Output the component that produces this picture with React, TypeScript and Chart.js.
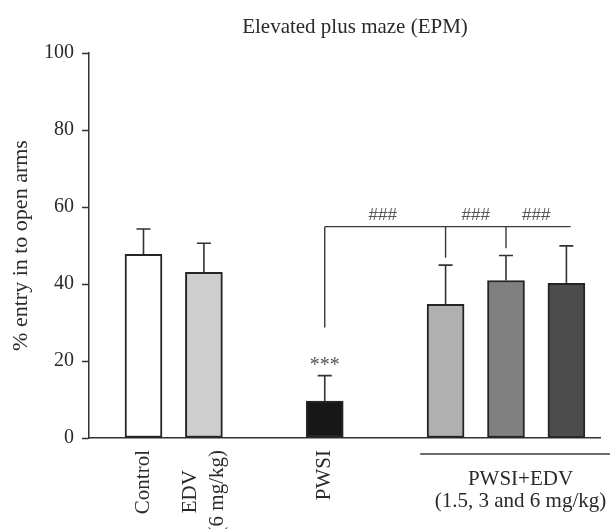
import { useEffect, useRef } from "react";
import { Chart, registerables } from "chart.js";

Chart.register(...registerables);

// ---- data ----
const groupNames = ["Control", "EDV 6 mg/kg", "PWSI", "PWSI+EDV 1.5 mg/kg", "PWSI+EDV 3 mg/kg", "PWSI+EDV 6 mg/kg"];
const groupSlots = [0, 1, 3, 5, 6, 7];
const meanEntry = [47.7, 43.0, 9.6, 34.7, 40.9, 40.2];
const errorEntry = [6.6, 7.6, 6.6, 10.2, 6.5, 9.7];
const barFills = ["#ffffff", "#cdcecd", "#171717", "#b0b0b0", "#808080", "#4c4c4c"];
const yTickValues = [0, 20, 40, 60, 80, 100];

const chartTitle = "Elevated plus maze (EPM)";
const yAxisTitle = "% entry in to open arms";
const axisLabelLines = [["Control"], ["EDV", "(6 mg/kg)"], ["PWSI"]];
const axisLabelSlots = [0, 1, 3];
const groupLabelLines = ["PWSI+EDV", "(1.5, 3 and 6 mg/kg)"];
const groupLineRange = [4.58, 7.72];
const groupLabelSlot = 6.24;

const bracketLevel = 54.9;
const bracketRange = [3, 7.07];
const bracketDropSlots = [3, 5, 6];
const bracketDropEnds = [28.7, 46.8, 49.3];
const hashLabel = "###";
const hashSlots = [3.96, 5.5, 6.5];
const hashLevel = 56.6;
const starLabel = "***";
const starSlot = 3;
const starLevel = 17.3;

const TEXT = "#2a2a2a";
const LINE = "#333333";
const SERIF = '"Liberation Serif", "Times New Roman", serif';

const annotationPlugin = {
  id: "annotations",
  afterDatasetsDraw(chart: any) {
    const ctx = chart.ctx;
    const xs = chart.scales.x;
    const ys = chart.scales.y;
    const meta = chart.getDatasetMeta(0);
    ctx.save();
    // error bars
    ctx.strokeStyle = LINE;
    ctx.lineWidth = 1.6;
    meta.data.forEach((bar: any, i: number) => {
      const x = bar.x;
      const yTop = ys.getPixelForValue(meanEntry[i]);
      const yErr = ys.getPixelForValue(meanEntry[i] + errorEntry[i]);
      ctx.beginPath();
      ctx.moveTo(x, yTop);
      ctx.lineTo(x, yErr);
      ctx.moveTo(x - 7, yErr);
      ctx.lineTo(x + 7, yErr);
      ctx.stroke();
    });
    // bracket
    ctx.strokeStyle = "#3a3a3a";
    ctx.lineWidth = 1.4;
    const by = ys.getPixelForValue(bracketLevel);
    ctx.beginPath();
    ctx.moveTo(xs.getPixelForValue(bracketRange[0]), by);
    ctx.lineTo(xs.getPixelForValue(bracketRange[1]), by);
    bracketDropSlots.forEach((s, i) => {
      const x = xs.getPixelForValue(s);
      ctx.moveTo(x, by);
      ctx.lineTo(x, ys.getPixelForValue(bracketDropEnds[i]));
    });
    ctx.stroke();
    // significance marks
    ctx.fillStyle = "#555555";
    ctx.textAlign = "center";
    ctx.textBaseline = "alphabetic";
    ctx.font = '17px "Liberation Sans", Arial, sans-serif';
    hashSlots.forEach((s) => {
      ctx.fillText(hashLabel, xs.getPixelForValue(s), ys.getPixelForValue(hashLevel));
    });
    ctx.font = `20px ${SERIF}`;
    ctx.fillText(starLabel, xs.getPixelForValue(starSlot), ys.getPixelForValue(starLevel));
    ctx.restore();
  },
  afterDraw(chart: any) {
    const ctx = chart.ctx;
    const xs = chart.scales.x;
    const area = chart.chartArea;
    ctx.save();
    ctx.fillStyle = TEXT;
    // title
    ctx.font = `21px ${SERIF}`;
    ctx.textAlign = "center";
    ctx.textBaseline = "alphabetic";
    ctx.fillText(chartTitle, 355, 33);
    // rotated category labels
    axisLabelLines.forEach((lines, i) => {
      const x = xs.getPixelForValue(axisLabelSlots[i]);
      ctx.save();
      ctx.translate(x, area.bottom + 12);
      ctx.rotate(-Math.PI / 2);
      ctx.font = `21px ${SERIF}`;
      ctx.textAlign = "center";
      ctx.textBaseline = "middle";
      const w = Math.max(...lines.map((l) => ctx.measureText(l).width));
      lines.forEach((l, k) => {
        ctx.fillText(l, -w / 2, (k - (lines.length - 1) / 2) * 27);
      });
      ctx.restore();
    });
    // group line + label
    ctx.strokeStyle = "#3a3a3a";
    ctx.lineWidth = 1.4;
    ctx.beginPath();
    ctx.moveTo(xs.getPixelForValue(groupLineRange[0]), area.bottom + 16);
    ctx.lineTo(xs.getPixelForValue(groupLineRange[1]), area.bottom + 16);
    ctx.stroke();
    ctx.font = `21px ${SERIF}`;
    ctx.textAlign = "center";
    ctx.textBaseline = "alphabetic";
    const gx = xs.getPixelForValue(groupLabelSlot);
    ctx.fillText(groupLabelLines[0], gx, area.bottom + 47);
    ctx.fillText(groupLabelLines[1], gx, area.bottom + 69);
    ctx.restore();
  },
};

export default function App() {
  const canvasRef = useRef<HTMLCanvasElement | null>(null);
  useEffect(() => {
    document.body.style.margin = "0";
    const canvas = canvasRef.current;
    if (!canvas) return;
    const chart = new Chart(canvas, {
      type: "bar",
      data: {
        labels: groupNames,
        datasets: [
          {
            label: "% entry in to open arms",
            data: groupSlots.map((s, i) => ({ x: s, y: meanEntry[i] })) as any,
            backgroundColor: barFills,
            borderColor: "#252525",
            borderWidth: 2,
            borderSkipped: false,
            barThickness: 37,
          },
        ],
      },
      options: {
        animation: false,
        responsive: false,
        maintainAspectRatio: false,
        layout: { padding: { left: 0, right: 10, top: 53, bottom: 0 } },
        plugins: {
          legend: { display: false },
          tooltip: { enabled: false },
          title: { display: false },
        },
        scales: {
          x: {
            type: "linear",
            offset: false,
            min: -0.902,
            max: 7.556,
            ticks: { display: false },
            grid: { display: false, offset: false },
            border: { display: true, color: LINE, width: 1.5 },
            afterFit: (s: any) => {
              s.height = 91;
            },
          },
          y: {
            type: "linear",
            min: 0,
            max: 100,
            afterBuildTicks: (s: any) => {
              s.ticks = yTickValues.map((v) => ({ value: v }));
            },
            ticks: {
              color: TEXT,
              font: { family: SERIF, size: 20 },
              padding: 8,
            },
            grid: {
              display: true,
              drawOnChartArea: false,
              drawTicks: true,
              tickLength: 7,
              tickColor: LINE,
              tickWidth: 1.5,
            },
            border: { display: true, color: LINE, width: 1.5 },
            title: {
              display: true,
              text: yAxisTitle,
              color: TEXT,
              font: { family: SERIF, size: 22 },
              padding: { top: 8, bottom: 0 },
            },
            afterFit: (s: any) => {
              s.width = 89;
            },
          },
        },
      },
      plugins: [annotationPlugin],
    });
    return () => chart.destroy();
  }, []);
  return (
    <div style={{ width: 610, height: 529 }}>
      <canvas ref={canvasRef} width={610} height={529} style={{ width: 610, height: 529, display: "block" }} />
    </div>
  );
}
